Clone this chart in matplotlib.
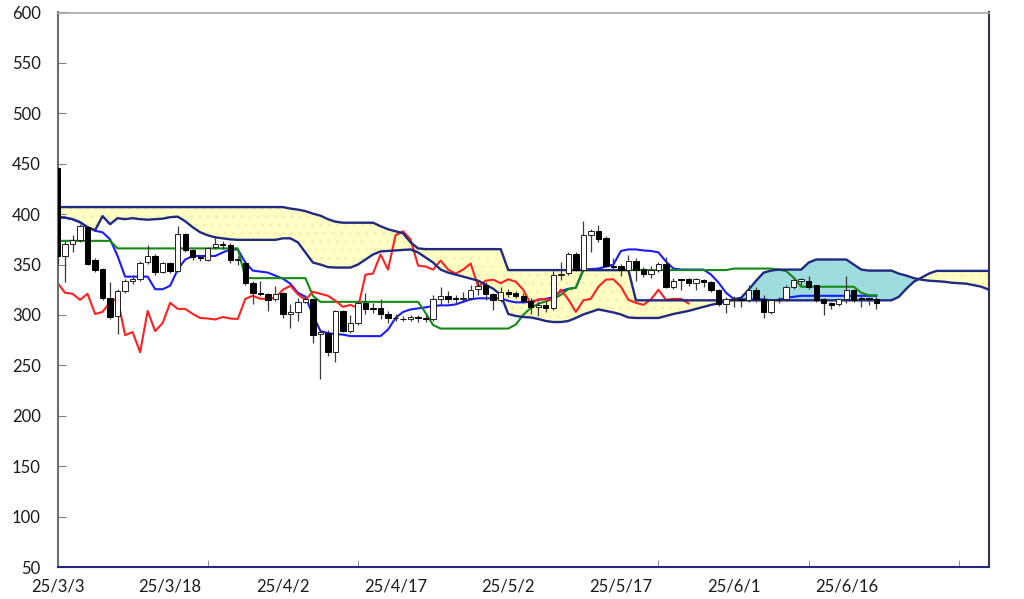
import numpy as np
import matplotlib.pyplot as plt

plt.rcParams['font.family'] = ['Lato', 'DejaVu Sans']
plt.rcParams['hatch.linewidth'] = 0.6

# daily candles 25/3/3 .. 25/6/20 (one category per calendar day)
opens = [446, 358, 370, 374, 387, 355, 346, 317, 299, 324,
         334, 336, 353, 358, 343, 352, 344, 380, 364, 357,
         355, 367, 370, 369, 355, 352, 332, 322, 321, 316,
         322, 301, 303, 313, 316, 281, 282, 263, 304, 284,
         292, 312, 306.5, 307, 301, 297, 296, 296, 298, 296.5,
         296, 316, 319, 317, 316, 316.5, 325.5, 329.5, 320.5, 315,
         323, 321.5, 319, 314, 308, 310, 307, 340, 342, 360,
         345, 379, 383, 376, 349, 349, 345, 354, 346, 341,
         345, 351, 328, 335.5, 336, 331.5, 335, 333, 325, 311,
         315, 315.5, 315, 325, 316, 303, 315, 315.5, 328, 334,
         334, 329.5, 316, 312, 310.6, 315.5, 325, 316.5, 316.5, 316]
highs = [447, 373, 379, 390, 388, 356, 347, 333, 326, 336,
         340, 354, 369, 360, 353, 353, 388, 381, 365, 358,
         367, 377, 373, 371, 358, 353, 334, 334, 322, 329,
         323, 311, 317, 320, 317, 285, 285, 305, 305, 300,
         314, 322, 312, 316, 304, 301, 299, 300, 300, 300,
         320, 328, 324, 320, 323, 330, 335, 333, 322, 328,
         326, 324, 322, 317, 314, 314, 344, 353, 362, 362,
         393, 385, 389, 378, 356, 351, 359, 356, 348, 349,
         353, 357, 337, 336, 337, 337, 336, 334, 326, 318,
         319, 318, 330, 328, 320, 316, 318, 330, 337, 337,
         339, 330, 317, 313, 316, 339, 326, 319, 318, 318]
lows = [351, 333, 362, 372, 350, 343, 315, 296, 281, 322,
        331, 334, 351, 340, 342, 342, 343, 362, 355, 354,
        354, 365, 365, 352, 350, 330, 311, 319, 304, 314,
        297, 287, 294, 312, 272, 236, 259, 253, 283, 282,
        290, 301, 302, 296, 292, 294, 294, 294, 293, 293,
        294, 310, 312, 312, 314, 315, 320, 315, 305, 313,
        318, 317, 312, 301, 299, 303, 305, 335, 340, 344,
        344, 362, 372, 348, 345, 339, 343, 334, 338, 337,
        343, 327, 326, 325, 329, 324.8, 328, 323, 309, 302,
        308, 308, 313, 313, 297, 301, 312, 314, 326, 330,
        326, 313, 300, 305.5, 309, 312, 313, 308, 310, 306]
closes = [358, 370, 374, 388, 351, 345, 317, 298, 324, 334,
          336, 352, 358, 343, 352, 344, 380, 364, 357, 356,
          366, 370, 369, 355, 355.5, 332, 322, 321, 315, 321,
          301, 303, 313, 316, 280, 283, 263, 304, 284, 292,
          312, 306, 306, 301, 297, 296.5, 295.5, 298, 296.5, 296,
          316, 319, 316, 316, 317, 325, 329, 320.5, 315, 323,
          321, 319, 314, 308, 310, 307, 340, 341, 360, 345,
          379, 383, 375, 349, 348, 345, 354, 345, 341, 345,
          351, 328, 334, 335, 331.5, 335.4, 333, 325, 311, 315.5,
          315.5, 315, 325, 315.5, 303, 314.5, 316, 328, 335, 335.4,
          328, 315, 312, 310, 315.5, 325, 315, 316, 316, 311.5]

tenkan = [397, 396.5, 395, 392, 387, 383.5, 382, 375, 358.5, 338,
          338, 338, 338, 325.5, 325.5, 329, 345, 355, 358.5, 358.5,
          358.5, 358.5, 362, 365, 365, 352, 344, 343, 342, 339,
          336, 331, 322, 318, 300, 284, 282, 281, 280.5, 279,
          279, 279, 279, 279, 285.5, 297, 303, 305.5, 306.5, 307.5,
          309, 309.5, 309.5, 310.5, 313, 315.5, 316.5, 316.5, 316.5, 316.5,
          314, 312.5, 312.5, 313, 315, 316, 317.5, 323.5, 326, 327,
          345, 345.5, 346, 348, 350, 363.5, 365, 365, 364, 363.5,
          362, 353, 346, 345, 345, 345, 345, 340, 332, 322,
          316, 315.5, 315.5, 315.5, 315.5, 314.5, 315, 317, 318, 319,
          319, 319, 319, 319, 319, 319, 319, 319, 319, 319]
kijun = [373.5, 373.5, 373.5, 373.5, 373.5, 373.5, 373.5, 373.5, 366, 366,
         366, 366, 366, 366, 366, 366, 366, 366, 366, 366,
         366, 366, 366, 366, 366, 337, 336.5, 336.5, 336.5, 336.5,
         336.5, 336.5, 336.5, 336.5, 319, 313, 313, 313, 313, 313,
         313, 313, 313, 313, 313, 313, 313, 313, 313, 302,
         290, 286.5, 286.5, 286.5, 286.5, 286.5, 286.5, 286.5, 286.5, 286.5,
         286.5, 290.5, 300, 307, 311, 313.5, 315.5, 320, 325.5, 327,
         344.5, 344.5, 344.5, 344.5, 344.5, 344.5, 344.5, 344.5, 344.5, 344.5,
         344.5, 344.5, 344.5, 344.5, 344.5, 344.5, 344.5, 344.5, 344.5, 344.5,
         346, 346, 346, 346, 346, 346, 345, 343.5, 337, 328,
         328, 328, 328, 328, 328, 328, 328, 322, 319.5, 319.5]
senkou_a = [397, 396.5, 395, 392, 387, 384, 398, 390, 396, 395,
            396, 395, 394.5, 395, 395.5, 397, 397.5, 393, 387, 382,
            379, 377, 376, 375, 374.5, 374.5, 374.5, 374.5, 374.5, 374.5,
            376, 376, 372, 362, 352, 350, 347.5, 347, 347, 347,
            350, 355, 360, 363, 363.5, 364, 364.5, 365, 362, 357,
            352, 345, 342, 340, 338, 336, 334, 330, 326, 320,
            301, 299, 298, 297.5, 296, 294, 293, 293, 294, 297,
            300.5, 303, 305.5, 304, 302.5, 300.5, 297.5, 297, 297, 297,
            297, 299, 301, 302.5, 304, 306, 308, 310, 311.5, 313.5,
            315.5, 317, 325, 334, 342, 344, 345, 345, 345, 345,
            352, 355, 355, 355, 355, 355, 350, 345, 344, 344,
            344, 344, 341, 339, 336.5, 335, 334, 333.5, 333, 332,
            331.5, 331, 329.5, 328, 325]
senkou_b = [407, 407, 407, 407, 407, 407, 407, 407, 407, 407,
            407, 407, 407, 407, 407, 407, 407, 407, 407, 407,
            407, 407, 407, 407, 407, 407, 407, 407, 407, 407,
            407, 405.5, 404.5, 403, 400.5, 398.5, 395, 392.5, 391.5, 391.5,
            391.5, 391.5, 391.5, 388, 385, 383, 381, 372, 366, 365.3,
            365.3, 365.3, 365.3, 365.3, 365.3, 365.3, 365.3, 365.3, 365.3, 365.3,
            344.5, 344.5, 344.5, 344.5, 344.5, 344.5, 344.5, 344.5, 344.5, 344.5,
            344.5, 344.5, 344.5, 344.5, 344.5, 344.5, 344.5, 314.5, 314.5, 314.5,
            314.5, 314.5, 314.5, 314.5, 314.5, 314.5, 314.5, 314.5, 314.5, 314.5,
            314.5, 314.5, 314.5, 314.5, 314.5, 314.5, 314.5, 314.5, 314.5, 314.5,
            314.5, 314.5, 314.5, 314.5, 314.5, 314.5, 314.5, 314.5, 314.5, 314.5,
            314.5, 314.5, 318, 326, 333, 337, 341, 343.7, 343.7, 343.7,
            343.7, 343.7, 343.7, 343.7, 343.7]

date_labels = ['25/3/3', '25/3/18', '25/4/2', '25/4/17',
               '25/5/2', '25/5/17', '25/6/1', '25/6/16']

n = len(closes)
x = np.arange(n)
xc = np.arange(len(senkou_a))
a = np.array(senkou_a)
b = np.array(senkou_b)
o = np.array(opens)
c = np.array(closes)

fig = plt.figure(figsize=(10.24, 5.99), dpi=100)
ax = fig.add_axes([57.5/1024, 1 - 567/599, (989 - 57.5)/1024, (567 - 12.5)/599])

# cloud
ax.fill_between(xc, a, b, where=b >= a, interpolate=True, facecolor='#ffffc4',
                edgecolor='#f1eca8', hatch='..', linewidth=0, zorder=1)
ax.fill_between(xc, a, b, where=a > b, interpolate=True, facecolor='#9fdcdf',
                linewidth=0, zorder=1)

# lines
ax.plot(x, tenkan, color='#1a1aff', lw=1.5, zorder=2)
ax.plot(x, kijun, color='#138a13', lw=1.5, zorder=2)
ax.plot(np.arange(n - 25), closes[25:], color='#ff2020', lw=1.5, zorder=2)
ax.plot(xc, a, color='#1f2a80', lw=1.7, zorder=3)
ax.plot(xc, b, color='#1f2a80', lw=1.7, zorder=3)

# candles
ax.vlines(x, lows, highs, color='#3a3a3a', lw=0.9, zorder=4)
up = c >= o
body = np.maximum(np.abs(c - o), 0.9)
ax.bar(x[up], body[up], bottom=o[up], width=0.72, color='white',
       edgecolor='#202020', linewidth=0.7, zorder=5)
ax.bar(x[~up], body[~up], bottom=c[~up], width=0.72, color='black',
       edgecolor='black', linewidth=0.7, zorder=5)

ax.set_xlim(0, 124)
ax.set_ylim(50, 600)
ax.set_yticks(range(50, 601, 50))
ax.tick_params(axis='y', direction='in', length=6, color='#808080', pad=12,
               labelsize=12, labelcolor='#1a1a1a')
ax.set_xticks(range(0, 106, 15))
ax.set_xticklabels(date_labels)
ax.tick_params(axis='x', which='major', length=0, pad=8, labelsize=12,
               labelcolor='#1a1a1a')
ax.set_xticks(range(20, 121, 20), minor=True)
ax.tick_params(axis='x', which='minor', direction='in', length=5, color='#808080')

ax.spines['left'].set_color('#6e6e6e')
ax.spines['left'].set_linewidth(1.5)
ax.spines['top'].set_color('#a6a6a6')
ax.spines['top'].set_linewidth(1.2)
ax.spines['right'].set_color('#353545')
ax.spines['right'].set_linewidth(1.5)
ax.spines['bottom'].set_color('#1f2a80')
ax.spines['bottom'].set_linewidth(1.5)

fig.savefig('out.png', dpi=100)
